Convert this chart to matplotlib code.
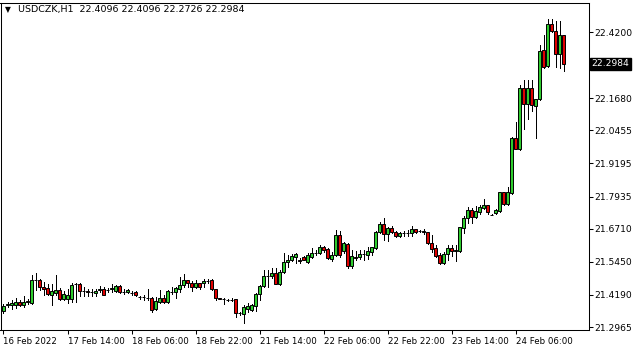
import matplotlib.pyplot as plt
import numpy as np

# USDCZK H1 candles
opens = [
    21.358, 21.381, 21.381, 21.381, 21.392, 21.381, 21.392, 21.388, 21.476, 21.474,
    21.449, 21.445, 21.419, 21.426, 21.438, 21.403, 21.403, 21.403, 21.460, 21.460,
    21.434, 21.432, 21.430, 21.426, 21.437, 21.441, 21.436, 21.443, 21.434, 21.453,
    21.430, 21.430, 21.428, 21.430, 21.412, 21.411, 21.408, 21.407, 21.365, 21.392,
    21.407, 21.392, 21.431, 21.430, 21.441, 21.457, 21.476, 21.464, 21.449, 21.464,
    21.464, 21.472, 21.476, 21.441, 21.407, 21.404, 21.401, 21.400, 21.403, 21.350,
    21.346, 21.365, 21.361, 21.377, 21.422, 21.453, 21.491, 21.491, 21.502, 21.460,
    21.506, 21.544, 21.552, 21.563, 21.550, 21.563, 21.544, 21.563, 21.579, 21.579,
    21.601, 21.594, 21.556, 21.571, 21.647, 21.586, 21.613, 21.529, 21.563, 21.563,
    21.575, 21.571, 21.582, 21.598, 21.658, 21.689, 21.651, 21.674, 21.658, 21.643,
    21.655, 21.654, 21.655, 21.670, 21.662, 21.661, 21.658, 21.617, 21.598, 21.571,
    21.540, 21.575, 21.598, 21.588, 21.586, 21.674, 21.712, 21.742, 21.716, 21.735,
    21.750, 21.761, 21.723, 21.731, 21.738, 21.811, 21.765, 21.807, 22.016, 21.975,
    22.207, 22.146, 22.207, 22.138, 22.165, 22.352, 22.291, 22.451, 22.424, 22.336,
    22.4096]
highs = [
    21.384, 21.392, 21.400, 21.407, 21.400, 21.415, 21.403, 21.495, 21.502, 21.479,
    21.468, 21.460, 21.460, 21.495, 21.445, 21.434, 21.441, 21.464, 21.464, 21.464,
    21.449, 21.441, 21.441, 21.441, 21.453, 21.449, 21.445, 21.460, 21.457, 21.457,
    21.441, 21.441, 21.434, 21.434, 21.415, 21.419, 21.441, 21.411, 21.411, 21.438,
    21.419, 21.438, 21.449, 21.449, 21.487, 21.499, 21.476, 21.472, 21.476, 21.464,
    21.479, 21.479, 21.479, 21.441, 21.408, 21.407, 21.403, 21.407, 21.403, 21.354,
    21.381, 21.388, 21.384, 21.426, 21.457, 21.514, 21.514, 21.521, 21.521, 21.514,
    21.579, 21.571, 21.575, 21.579, 21.559, 21.567, 21.579, 21.598, 21.590, 21.609,
    21.605, 21.598, 21.582, 21.666, 21.662, 21.620, 21.617, 21.590, 21.586, 21.590,
    21.590, 21.601, 21.601, 21.662, 21.697, 21.712, 21.678, 21.681, 21.662, 21.658,
    21.662, 21.666, 21.681, 21.670, 21.666, 21.670, 21.658, 21.647, 21.609, 21.579,
    21.582, 21.609, 21.609, 21.609, 21.678, 21.719, 21.754, 21.750, 21.758, 21.761,
    21.784, 21.761, 21.727, 21.746, 21.811, 21.811, 21.830, 22.020, 22.077, 22.218,
    22.237, 22.237, 22.237, 22.165, 22.371, 22.409, 22.470, 22.470, 22.462, 22.462,
    22.4096]
lows = [
    21.350, 21.373, 21.365, 21.369, 21.377, 21.373, 21.384, 21.384, 21.438, 21.438,
    21.419, 21.419, 21.381, 21.419, 21.400, 21.400, 21.388, 21.392, 21.392, 21.415,
    21.415, 21.415, 21.415, 21.415, 21.430, 21.419, 21.430, 21.430, 21.430, 21.426,
    21.422, 21.426, 21.419, 21.415, 21.403, 21.400, 21.400, 21.354, 21.361, 21.388,
    21.388, 21.388, 21.422, 21.407, 21.430, 21.449, 21.449, 21.434, 21.445, 21.441,
    21.449, 21.464, 21.438, 21.400, 21.403, 21.384, 21.396, 21.396, 21.335, 21.342,
    21.312, 21.354, 21.358, 21.358, 21.400, 21.449, 21.449, 21.483, 21.460, 21.457,
    21.502, 21.525, 21.548, 21.540, 21.540, 21.552, 21.540, 21.559, 21.571, 21.575,
    21.582, 21.556, 21.548, 21.567, 21.563, 21.579, 21.521, 21.521, 21.552, 21.556,
    21.552, 21.556, 21.571, 21.594, 21.655, 21.628, 21.624, 21.655, 21.639, 21.639,
    21.643, 21.643, 21.643, 21.655, 21.658, 21.651, 21.613, 21.582, 21.563, 21.537,
    21.537, 21.552, 21.567, 21.548, 21.582, 21.655, 21.693, 21.693, 21.712, 21.727,
    21.746, 21.727, 21.722, 21.727, 21.735, 21.761, 21.761, 21.803, 21.975, 21.971,
    22.051, 22.089, 22.119, 22.016, 22.161, 22.283, 22.287, 22.420, 22.287, 22.283,
    22.2726]
closes = [
    21.377, 21.384, 21.388, 21.392, 21.381, 21.392, 21.394, 21.476, 21.474, 21.449,
    21.441, 21.422, 21.434, 21.438, 21.403, 21.422, 21.419, 21.457, 21.461, 21.434,
    21.432, 21.430, 21.431, 21.434, 21.441, 21.419, 21.438, 21.445, 21.453, 21.430,
    21.431, 21.438, 21.426, 21.419, 21.411, 21.410, 21.407, 21.361, 21.396, 21.407,
    21.392, 21.434, 21.430, 21.445, 21.457, 21.476, 21.464, 21.449, 21.464, 21.449,
    21.472, 21.473, 21.441, 21.407, 21.404, 21.403, 21.400, 21.401, 21.350, 21.349,
    21.373, 21.377, 21.381, 21.422, 21.453, 21.491, 21.492, 21.502, 21.460, 21.506,
    21.544, 21.552, 21.567, 21.575, 21.548, 21.552, 21.571, 21.579, 21.580, 21.601,
    21.590, 21.559, 21.571, 21.647, 21.571, 21.617, 21.529, 21.567, 21.559, 21.575,
    21.574, 21.586, 21.601, 21.658, 21.689, 21.651, 21.674, 21.658, 21.643, 21.655,
    21.654, 21.656, 21.670, 21.658, 21.661, 21.659, 21.617, 21.594, 21.567, 21.540,
    21.575, 21.598, 21.586, 21.590, 21.678, 21.712, 21.742, 21.716, 21.738, 21.754,
    21.761, 21.735, 21.724, 21.742, 21.811, 21.765, 21.811, 22.016, 21.975, 22.207,
    22.146, 22.207, 22.142, 22.165, 22.348, 22.287, 22.451, 22.424, 22.336, 22.410,
    22.2984]

x_tick_pos = [0, 16, 32, 48, 64, 80, 96, 112, 128]
x_tick_labels = ['16 Feb 2022', '17 Feb 14:00', '18 Feb 06:00', '18 Feb 22:00',
                 '21 Feb 14:00', '22 Feb 06:00', '22 Feb 22:00', '23 Feb 14:00',
                 '24 Feb 06:00']
y_ticks = [22.4200, 22.1680, 22.0455, 21.9195, 21.7935, 21.6710, 21.5450, 21.4190, 21.2965]
last_price = 22.2984
title = 'USDCZK,H1  22.4096 22.4096 22.2726 22.2984'

o = np.array(opens); h = np.array(highs); l = np.array(lows); c = np.array(closes)
assert len(o) == len(h) == len(l) == len(c)
x = np.arange(len(o))
up = c >= o

fig = plt.figure(figsize=(6.35, 3.52), dpi=100)
ax = fig.add_axes([0.5/635, 22/352, 588/635, 327/352])

ax.vlines(x, l, h, color='black', linewidth=0.7, antialiased=False)
ax.bar(x, np.abs(c - o), bottom=np.minimum(o, c), width=0.8,
       color=np.where(up, '#2ecc2e', '#e00000'), edgecolor='black',
       linewidth=0.7, zorder=3)

ax.set_xlim(-0.75, 146.25)
ax.set_ylim(21.2853, 22.5305)

for s in ax.spines.values():
    s.set_linewidth(0.75)
    s.set_color('black')

ax.yaxis.tick_right()
ax.set_yticks(y_ticks)
ax.set_yticklabels(['%.4f' % v for v in y_ticks])
ax.tick_params(axis='y', direction='out', length=3, width=0.75, labelsize=6.6, pad=1.5)

ax.set_xticks(x_tick_pos)
ax.set_xticklabels(x_tick_labels, ha='left')
ax.tick_params(axis='x', direction='out', length=3, width=0.75, labelsize=6.2, pad=2)

ax.text(1.0 + 3/588, last_price, '22.2984', transform=ax.get_yaxis_transform(),
        color='white', fontsize=6.6, va='center', ha='left', clip_on=False,
        bbox=dict(facecolor='black', edgecolor='black', pad=1.2))

ax.text(4/588, 0.979, '\u25bc', transform=ax.transAxes, fontsize=5.5, va='center')
ax.text(18/588, 0.979, title, transform=ax.transAxes, fontsize=6.8, va='center')

fig.savefig('out.png', dpi=100)
